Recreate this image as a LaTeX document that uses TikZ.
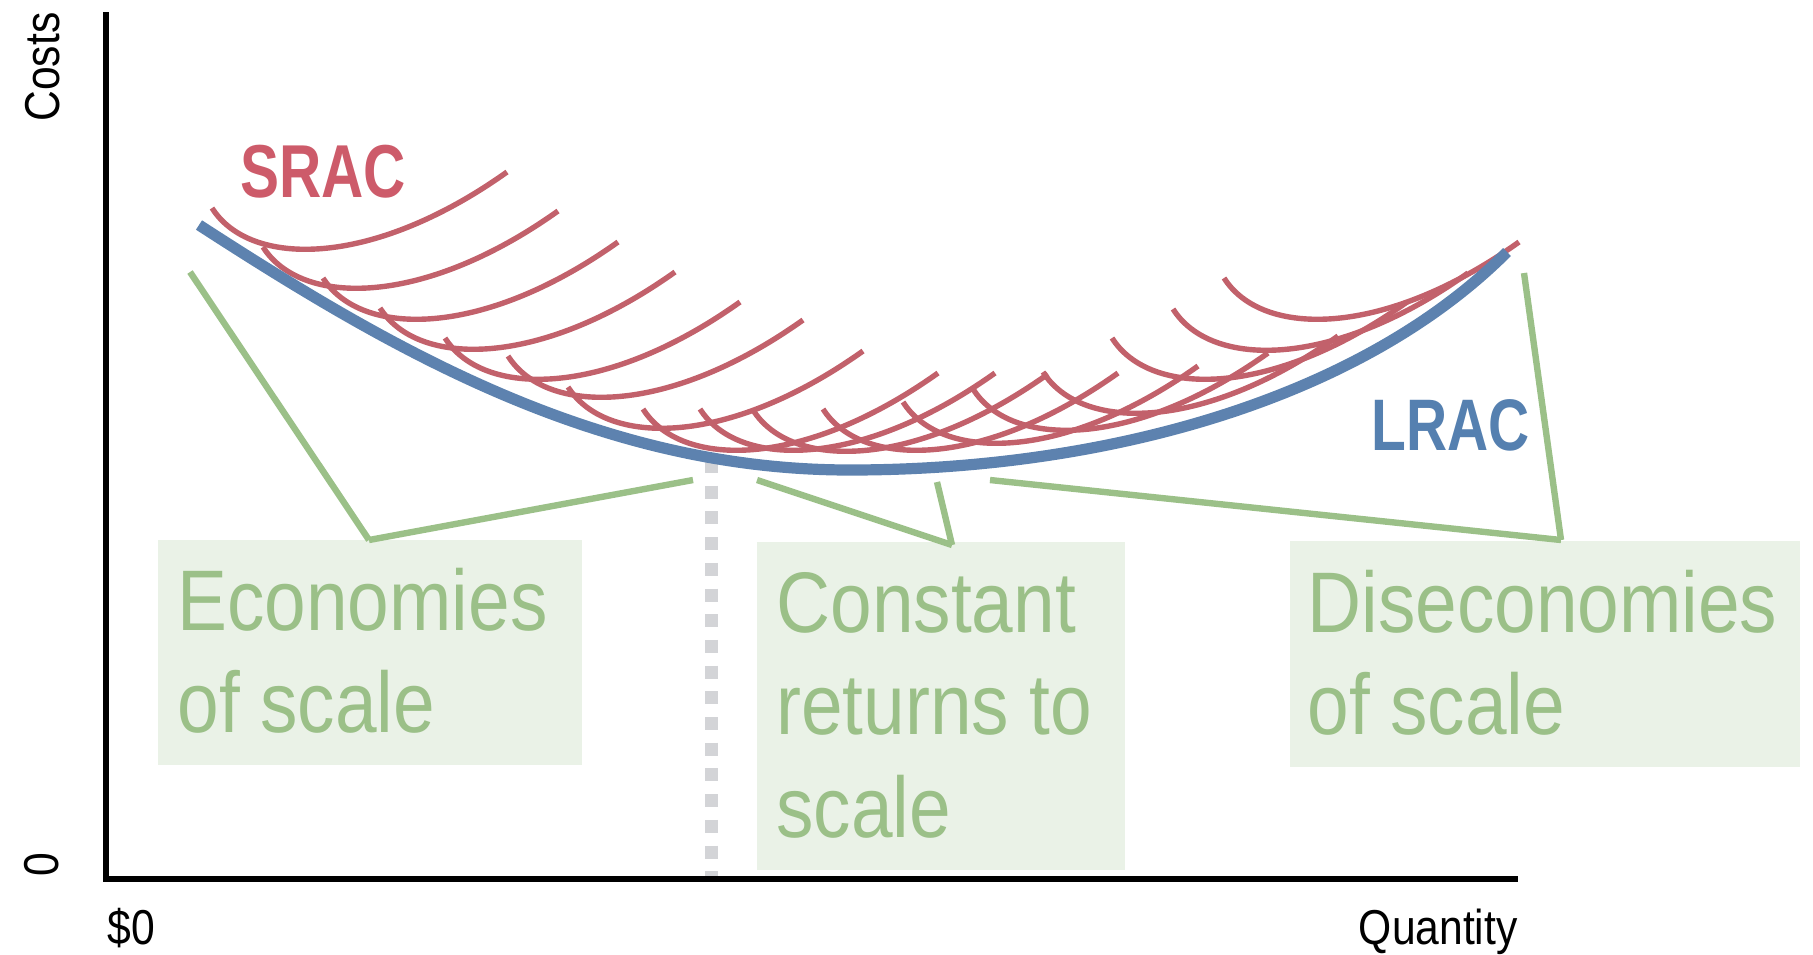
\documentclass[tikz,border=0pt]{standalone}
\usepackage{fontspec}
\setmainfont[FakeStretch=0.87]{Liberation Sans}
\newfontfamily\headfont[FakeStretch=0.78]{Liberation Sans}

\definecolor{sracred}{HTML}{C2616B}
\definecolor{sractext}{HTML}{CD5B6A}
\definecolor{lracblue}{HTML}{5D82AF}
\definecolor{lractext}{HTML}{5580B0}
\definecolor{callgreen}{HTML}{9BC088}
\definecolor{boxgreen}{HTML}{EAF2E7}
\definecolor{markgrey}{HTML}{D3D4D7}

\begin{document}
\begin{tikzpicture}[x=0.5pt,y=-0.5pt,
  axis/.style={line width=3pt,black,line join=miter},
  lrac/.style={line width=5.6pt,lracblue},
  srac/.style={line width=2.7pt,sracred},
  bracket/.style={line width=3.2pt,callgreen},
  scalemark/.style={line width=6.5pt,markgrey,dash pattern=on 6.5pt off 6.35pt},
  boxtext/.style={inner sep=0pt,text=callgreen,font=\fontsize{43}{51}\selectfont},
  axlabel/.style={inner sep=0pt,text=black,font=\fontsize{24.5}{28}\selectfont},
  curvelabel/.style={inner sep=0pt,font=\headfont\bfseries\fontsize{37.5}{40}\selectfont}]

\useasboundingbox (0,0) rectangle (1813,954);

% label panels
\fill[boxgreen] (158,540) rectangle (582,765);
\fill[boxgreen] (757,542) rectangle (1125,870);
\fill[boxgreen] (1290,541) rectangle (1800,767);

% callout brackets
\coordinate (econtop) at (190,272);
\coordinate (econtip) at (369,540);
\coordinate (econend) at (693,480);
\draw[bracket] (econtop) -- (econtip);
\draw[bracket] (econtip) -- (econend);

\coordinate (consta) at (757,480);
\coordinate (constb) at (937,482);
\coordinate (consttip) at (952,545);
\draw[bracket] (consta) -- (consttip);
\draw[bracket] (constb) -- (consttip);

\coordinate (disa) at (990,480);
\coordinate (distop) at (1524,273);
\coordinate (distip) at (1561,540);
\draw[bracket] (disa) -- (distip);
\draw[bracket] (distop) -- (distip);

% dotted marker at the minimum of LRAC
\coordinate (minmark) at (711,460);
\coordinate (minbase) at (711,879);
\draw[scalemark] (minmark) -- (minbase);

% axes
\coordinate (ytop) at (106,12);
\coordinate (origin) at (106,879);
\coordinate (xend) at (1518,879);
\draw[axis] (ytop) -- (origin) -- (xend);

% short-run average cost curves (one shape, shifted)
\foreach \px/\py in {212/208, 263/247, 323/278, 380/308, 445/338, 508/356,
                     568/387, 643/409, 700/409, 753/410, 823/409, 903/402,
                     973/389, 1043/372, 1112/338, 1173/309, 1224/278}
  \draw[srac, shift={(\px,\py)}] (0,0) .. controls (38,60) and (160,60) .. (295,-36);

% long-run average cost curve
\coordinate (lracL) at (199,225);
\coordinate (lracmin) at (850,470);
\coordinate (lracR) at (1507,252);
\draw[lrac] (lracL) .. controls (395,352) and (600,470) .. (lracmin)
            .. controls (1100,470) and (1357,402) .. (lracR);

% curve labels
\node[curvelabel, text=sractext, anchor=base west] (sraclabel) at (240,197) {SRAC};
\node[curvelabel, text=lractext, anchor=base west, font=\headfont\bfseries\fontsize{36.5}{40}\selectfont] (lraclabel) at (1371,450) {LRAC};

% panel texts
\node[boxtext, anchor=base west] (econA) at (177,630) {Economies};
\node[boxtext, anchor=base west] (econB) at (177,732) {of scale};
\node[boxtext, anchor=base west] (constA) at (776,632) {Constant};
\node[boxtext, anchor=base west] (constB) at (776,734) {returns to};
\node[boxtext, anchor=base west] (constC) at (776,837) {scale};
\node[boxtext, anchor=base west] (disA) at (1307,632) {Diseconomies};
\node[boxtext, anchor=base west] (disB) at (1307,734) {of scale};

% axis labels
\node[axlabel, anchor=base west] (xzero) at (107,944) {\$0};
\node[axlabel, anchor=base east] (qty) at (1518,944) {Quantity};
\node[axlabel, rotate=90, anchor=base west] (costs) at (59,122) {Costs};
\node[axlabel, rotate=90, anchor=base west] (yzero) at (58,877) {0};
\end{tikzpicture}
\end{document}
